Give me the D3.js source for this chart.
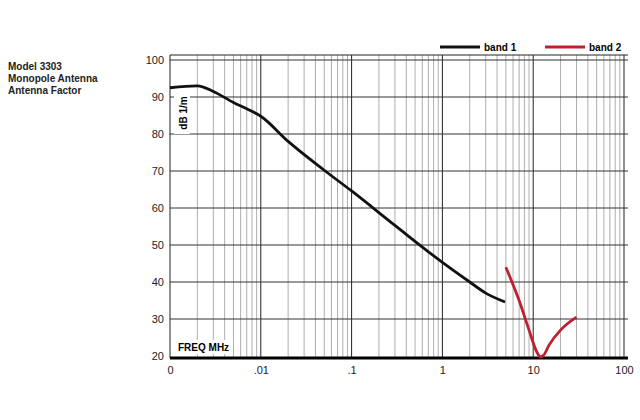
<!DOCTYPE html><html><head><meta charset="utf-8"><script src="https://cdn.jsdelivr.net/npm/d3@7"></script>
<style>body{margin:0;background:#fff}text{font-family:"Liberation Sans",Arial,sans-serif}</style></head><body>
<svg id="c" width="640" height="420"></svg>
<script>
const band1F=[0.001,0.002,0.003,0.005,0.007,0.01,0.02,0.05,0.1,0.3,1,2,3,4.9];
const band1V=[92.5,93,91.5,88.5,86.8,84.8,78,70.2,64.6,55.3,45.3,40,37,34.6];
const band2F=[5,7,9,11,12,13,15,20,30];
const band2V=[44,35,27,21,19.8,20.2,23,27,30.5];
const yTicks=[20,30,40,50,60,70,80,90,100];
const xTicks=[0.001,0.01,0.1,1,10,100];
const xTickLabels=["0",".01",".1","1","10","100"];
const titleLines=["Model 3303","Monopole Antenna","Antenna Factor"];
const svg=d3.select("#c");
const x=d3.scaleLog().domain([0.001,100]).range([170,624]);
const y=d3.scaleLinear().domain([20,100]).range([356,60]);
const g=svg.append("g");
const minors=[];for(let d=-3;d<2;d++)for(let k=2;k<=9;k++)minors.push(k*Math.pow(10,d));
g.selectAll(".mn").data(minors).join("line").attr("x1",d=>x(d)).attr("x2",d=>x(d)).attr("y1",55).attr("y2",358).attr("stroke","#999").attr("stroke-width",0.8);
g.selectAll(".mj").data(xTicks.slice(1)).join("line").attr("x1",d=>x(d)).attr("x2",d=>x(d)).attr("y1",55).attr("y2",358).attr("stroke","#222").attr("stroke-width",1);
g.selectAll(".hy").data(yTicks.slice(1)).join("line").attr("x1",170).attr("x2",628).attr("y1",d=>y(d)).attr("y2",d=>y(d)).attr("stroke","#333").attr("stroke-width",1);
g.append("line").attr("x1",170).attr("x2",170).attr("y1",55).attr("y2",358).attr("stroke","#222");
g.append("line").attr("x1",170).attr("x2",628).attr("y1",55).attr("y2",55).attr("stroke","#222");
g.append("line").attr("x1",170).attr("x2",628).attr("y1",358).attr("y2",358).attr("stroke","#000").attr("stroke-width",3);
g.append("rect").attr("x",174).attr("y",92).attr("width",16).attr("height",42).attr("fill","#fff");
g.append("rect").attr("x",175).attr("y",340).attr("width",58).attr("height",14).attr("fill","#fff");
g.append("text").attr("transform","translate(187,113) rotate(-90)").attr("text-anchor","middle").attr("font-size",10).attr("font-weight","bold").text("dB 1/m");
g.append("text").attr("x",178).attr("y",351).attr("font-size",10).attr("font-weight","bold").text("FREQ  MHz");
const ya=d3.axisLeft(y).tickValues(yTicks).tickSize(0).tickPadding(4);
svg.append("g").attr("transform","translate(168,0)").call(ya).call(a=>{a.select(".domain").remove();a.selectAll("text").attr("font-size",11).attr("fill","#222").style("font-family","Liberation Sans, Arial");});
const xa=d3.axisBottom(x).tickValues(xTicks).tickFormat((d,i)=>xTickLabels[i]).tickSize(0).tickPadding(6);
svg.append("g").attr("transform","translate(0,360)").call(xa).call(a=>{a.select(".domain").remove();a.selectAll("text").attr("font-size",11).attr("fill","#222").style("font-family","Liberation Sans, Arial");});
const line=d3.line().x(d=>x(d[0])).y(d=>y(d[1])).curve(d3.curveMonotoneX);
svg.append("path").attr("d",line(band1F.map((f,i)=>[f,band1V[i]]))).attr("fill","none").attr("stroke","#111").attr("stroke-width",2.8);
svg.append("path").attr("d",line(band2F.map((f,i)=>[f,band2V[i]]))).attr("fill","none").attr("stroke","#c0202e").attr("stroke-width",2.8);
const leg=[["band 1","#111",440],["band 2","#c0202e",545]];
leg.forEach(l=>{svg.append("line").attr("x1",l[2]).attr("x2",l[2]+40).attr("y1",47).attr("y2",47).attr("stroke",l[1]).attr("stroke-width",3);
svg.append("text").attr("x",l[2]+44).attr("y",51).attr("font-size",10).attr("font-weight","bold").text(l[0]);});
svg.append("g").selectAll("text").data(titleLines).join("text").attr("x",8).attr("y",(d,i)=>70+i*12).attr("font-size",10).attr("font-weight","bold").attr("fill","#222").text(d=>d);
</script></body></html>
